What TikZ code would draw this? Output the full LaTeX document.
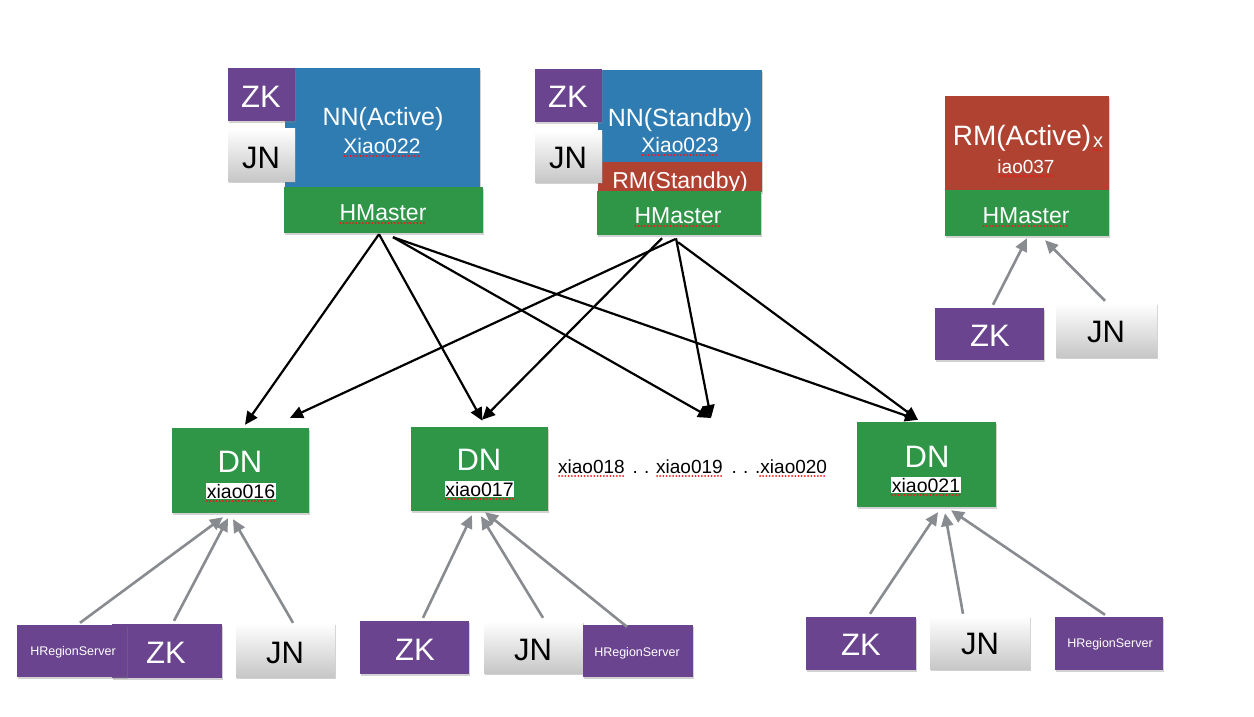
\documentclass[tikz,border=0pt]{standalone}
\usepackage{fontspec}
\setmainfont{Liberation Sans}
\usetikzlibrary{arrows.meta,shadows,calc}
\definecolor{nnblue}{RGB}{46,124,178}
\definecolor{hgreen}{RGB}{47,150,72}
\definecolor{zkpurple}{RGB}{106,68,142}
\definecolor{rmred}{RGB}{176,66,50}
\definecolor{agray}{RGB}{136,139,143}
\definecolor{spellred}{RGB}{245,20,20}
\newcommand\fsz[1]{\fontsize{#1pt}{#1pt}\selectfont}
\newcommand\squig[1]{\draw[spell] ($(#1.base west)+(1,3)$) -- ($(#1.base east)+(0,3)$);}
\tikzset{
  box/.style={rectangle, draw=none, inner sep=0pt, drop shadow={shadow xshift=1.2pt, shadow yshift=-1.8pt, opacity=0.35}},
  nnbox/.style={box, fill=nnblue},
  hmbox/.style={box, fill=hgreen},
  zkbox/.style={box, fill=zkpurple},
  rmbox/.style={box, fill=rmred},
  jnbox/.style={box, top color=white, bottom color=black!22},
  txt/.style={inner sep=0pt, anchor=base, text=white},
  dark/.style={txt, text=black},
  lab/.style={anchor=base, fill=white, inner sep=0.8pt, text=black, font=\fsz{19.5}},
  spell/.style={draw=spellred, line width=2pt, line cap=round, dash pattern=on 0.01pt off 3.2pt},
  blk/.style={draw=black, line width=2.2pt, -{Triangle[length=13pt,width=12pt]}},
  gry/.style={draw=agray, line width=2.6pt, -{Triangle[length=13pt,width=12pt]}},
}
\begin{document}
\begin{tikzpicture}[x=1pt,y=-1pt]
\useasboundingbox (0,0) rectangle (1254,716);
\fill[white] (0,0) rectangle (1254,716);

% ---------- top left block ----------
\node[nnbox, minimum width=195, minimum height=120] (nn1) at (382.5,128) {};
\node[hmbox, minimum width=199, minimum height=46] (hm1) at (383.5,210) {};
\node[zkbox, minimum width=67, minimum height=53] (zk1) at (261.5,94.5) {};
\node[jnbox, minimum width=67, minimum height=53] (jn1) at (261.5,154.5) {};
\node[txt, font=\fsz{25}] (tnn1) at (383,125) {NN(Active)};
\node[txt, font=\fsz{21}] (tx22) at (382,153) {Xiao022};
\node[txt, font=\fsz{23}] (thm1) at (383,220) {HMaster};
\node[txt, font=\fsz{31}] (tzk1) at (261,107) {ZK};
\node[dark, font=\fsz{31}] (tjn1) at (261,168) {JN};
\squig{tx22}
\squig{thm1}

% ---------- top middle block ----------
\node[nnbox, minimum width=164, minimum height=92] (nn2) at (680,116) {};
\node[rmbox, minimum width=164, minimum height=30] (rm2) at (680,177) {};
\node[txt, font=\fsz{23}] (trm2) at (680,188) {RM(Standby)};
\node[hmbox, minimum width=164, minimum height=44] (hm2) at (679,213) {};
\node[zkbox, minimum width=67, minimum height=53] (zk2) at (568.5,95.5) {};
\node[jnbox, minimum width=67, minimum height=52] (jn2) at (568.5,156) {};
\node[txt, font=\fsz{25}] (tnn2) at (680,126) {NN(Standby)};
\node[txt, font=\fsz{21}] (tx23) at (680,152) {Xiao023};
\node[txt, font=\fsz{23}] (thm2) at (678,223) {HMaster};
\node[txt, font=\fsz{31}] (tzk2) at (568,107) {ZK};
\node[dark, font=\fsz{31}] (tjn2) at (568,168) {JN};
\squig{tx23}
\squig{thm2}

% ---------- top right block ----------
\node[rmbox, minimum width=164, minimum height=94] (rm3) at (1027,143) {};
\node[hmbox, minimum width=164, minimum height=46] (hm3) at (1027,213) {};
\node[txt, font=\fsz{28}] (trm3) at (1022,145) {RM(Active)};
\node[txt, font=\fsz{20}] (tx3) at (1098,147) {x};
\node[txt, font=\fsz{19}] (tiao) at (1026,173) {iao037};
\node[txt, font=\fsz{23}] (thm3) at (1026,223) {HMaster};
\squig{tx3}
\squig{tiao}
\squig{thm3}
\node[zkbox, minimum width=109, minimum height=52] (zk3) at (989.5,334) {};
\node[jnbox, minimum width=101, minimum height=54] (jn3) at (1106.5,330) {};
\node[txt, font=\fsz{31}] (tzk3) at (990,346) {ZK};
\node[dark, font=\fsz{31}] (tjn3) at (1106,342) {JN};
\draw[gry] ($(zk3.north)+(3.5,-3)$) -- ($(hm3.south)+(0,2)$);
\draw[gry] ($(jn3.north)+(-1.5,-2)$) -- ($(hm3.south)+(18,4)$);

% ---------- DN row ----------
\node[hmbox, minimum width=137, minimum height=85] (dn1) at (240.5,470.5) {};
\node[hmbox, minimum width=137, minimum height=84] (dn2) at (479.5,469) {};
\node[hmbox, minimum width=139, minimum height=85] (dn3) at (926.5,464.5) {};
\node[txt, font=\fsz{31}] (tdn1) at (240,472) {DN};
\node[txt, font=\fsz{31}] (tdn2) at (479,470) {DN};
\node[txt, font=\fsz{31}] (tdn3) at (927,467) {DN};
\node[lab] (x16) at (241,498) {xiao016};
\node[lab] (x17) at (479.5,496) {xiao017};
\node[lab] (x21) at (926,492) {xiao021};
\squig{x16}
\squig{x17}
\squig{x21}
\node[dark, font=\fsz{19}, anchor=base west] (x18) at (558,473) {xiao018};
\node[dark, font=\fsz{19}] (d1) at (641,473) {.\,\,.};
\node[dark, font=\fsz{19}, anchor=base west] (x19) at (656,473) {xiao019};
\node[dark, font=\fsz{19}] (d2) at (740,473) {.\,\,.};
\node[dark, font=\fsz{19}, anchor=base west] (x20) at (755,473) {.xiao020};
\squig{x18}
\squig{x19}
\draw[spell] ($(x20.base west)+(5,3)$) -- ($(x20.base east)+(0,3)$);
\coordinate (f19) at (711,418);

% ---------- black connectors ----------
\draw[blk] ($(hm1.south)+(-4.5,1)$) -- ($(dn1.north)+(4.5,-3)$);
\draw[blk] ($(hm1.south)+(-4.5,1)$) -- ($(dn2.north)+(3,-6)$);
\draw[blk] ($(hm1.south)+(9.5,4)$) -- (f19);
\draw[blk] ($(hm1.south)+(9.5,4)$) -- ($(dn3.north)+(-8.5,-2)$);
\draw[blk] ($(hm2.south)+(-4,4)$) -- ($(dn1.north)+(49.5,-10)$);
\draw[blk] ($(hm2.south)+(-17,3)$) -- ($(dn2.north)+(2.5,-7)$);
\draw[blk] ($(hm2.south)+(-3,3)$) -- (f19);
\draw[blk] ($(hm2.south)+(-1,7)$) -- ($(dn3.north)+(-8.5,-2)$);

% ---------- bottom row ----------
\node[zkbox, minimum width=110, minimum height=54] (zk4) at (167,651) {};
\node[zkbox, minimum width=110, minimum height=52] (hrs1) at (72,651) {};
\node[jnbox, minimum width=99, minimum height=54] (jn4) at (285.5,650) {};
\node[txt, font=\fsz{12.5}] (thrs1) at (73,655) {HRegionServer};
\node[txt, font=\fsz{31}] (tzk4) at (166,663) {ZK};
\node[dark, font=\fsz{31}] (tjn4) at (285,663) {JN};

\node[zkbox, minimum width=109, minimum height=53] (zk5) at (414.5,647.5) {};
\node[jnbox, minimum width=99, minimum height=52] (jn5) at (533.5,647) {};
\node[zkbox, minimum width=110, minimum height=52] (hrs5) at (638,651) {};
\node[txt, font=\fsz{31}] (tzk5) at (415,660) {ZK};
\node[dark, font=\fsz{31}] (tjn5) at (533,660) {JN};
\node[txt, font=\fsz{12.5}] (thrs5) at (637,656) {HRegionServer};

\node[zkbox, minimum width=110, minimum height=53] (zk6) at (861,643.5) {};
\node[jnbox, minimum width=100, minimum height=53] (jn6) at (980,642.5) {};
\node[zkbox, minimum width=108, minimum height=53] (hrs6) at (1109,643.5) {};
\node[txt, font=\fsz{31}] (tzk6) at (861,655) {ZK};
\node[dark, font=\fsz{31}] (tjn6) at (980,654) {JN};
\node[txt, font=\fsz{12.5}] (thrs6) at (1110,647) {HRegionServer};

% ---------- gray connectors ----------
\draw[gry] ($(hrs1.north)+(8,-2)$) -- ($(dn1.south)+(-17.5,4)$);
\draw[gry] ($(zk4.north)+(7,-3)$) -- ($(dn1.south)+(-12.5,5)$);
\draw[gry] ($(jn4.north)+(7.5,0)$) -- ($(dn1.south)+(-7.5,6)$);
\draw[gry] ($(zk5.north)+(8.5,-3)$) -- ($(dn2.south)+(-7.5,4)$);
\draw[gry] ($(jn5.north)+(9.5,-3)$) -- ($(dn2.south)+(1.5,5)$);
\draw[gry] ($(hrs5.north)+(-11,2)$) -- ($(dn2.south)+(5.5,1)$);
\draw[gry] ($(zk6.north)+(9,-3)$) -- ($(dn3.south)+(11.5,5)$);
\draw[gry] ($(jn6.north)+(-17,-2)$) -- ($(dn3.south)+(18.5,6)$);
\draw[gry] ($(hrs6.north)+(-4,-2)$) -- ($(dn3.south)+(24.5,3)$);
\end{tikzpicture}
\end{document}
